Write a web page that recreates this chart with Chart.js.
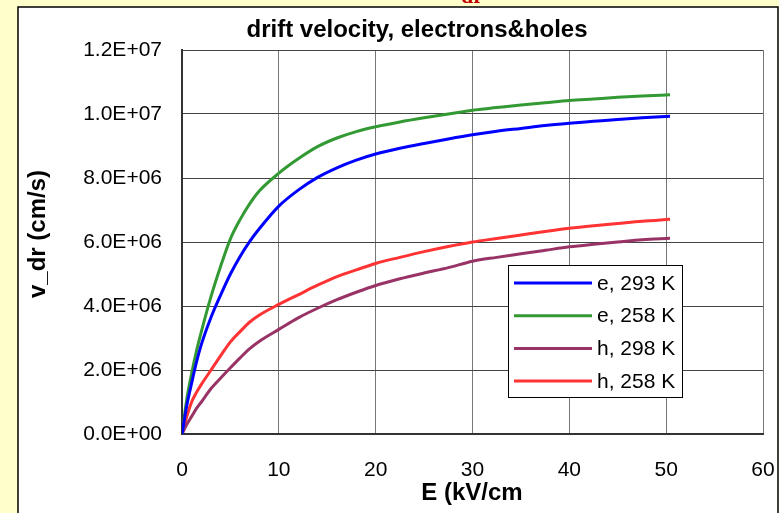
<!DOCTYPE html>
<html>
<head>
<meta charset="utf-8">
<script src="https://cdn.jsdelivr.net/npm/chart.js@4"></script>
<style>
  html, body { margin: 0; padding: 0; background: #FFFFCC; }
  #grafico { display: block; }
</style>
</head>
<body>
<canvas id="grafico" width="779" height="513"></canvas>
<script>
/* ── DATOS ── campo eléctrico (kV/cm) y velocidades de deriva (en 1E+06 cm/s) */
var campoE = [0, 0.5, 1, 1.5, 2, 3, 4, 5, 6, 7, 8, 10, 12, 14, 16, 18, 20, 22.5, 25, 27.5, 30, 32.5, 35, 37.5, 40, 42.5, 45, 47.5, 50.4];
var electrones293 = [0, 0.9, 1.6, 2.25, 2.8, 3.65, 4.35, 5.0, 5.55, 6.02, 6.42, 7.12, 7.62, 8.02, 8.32, 8.56, 8.75, 8.93, 9.08, 9.22, 9.35, 9.46, 9.55, 9.64, 9.71, 9.77, 9.83, 9.88, 9.93];
var electrones258 = [0, 1.1, 1.9, 2.6, 3.2, 4.3, 5.25, 6.1, 6.7, 7.2, 7.6, 8.15, 8.6, 8.98, 9.25, 9.45, 9.6, 9.75, 9.88, 10.0, 10.12, 10.2, 10.28, 10.35, 10.42, 10.47, 10.52, 10.56, 10.6];
var huecos298 = [0, 0.3, 0.55, 0.8, 1.0, 1.42, 1.75, 2.07, 2.38, 2.67, 2.9, 3.27, 3.63, 3.93, 4.2, 4.43, 4.64, 4.85, 5.03, 5.2, 5.4, 5.52, 5.63, 5.74, 5.85, 5.93, 6.0, 6.07, 6.12];
var huecos258 = [0, 0.55, 1.0, 1.3, 1.55, 2.0, 2.45, 2.88, 3.2, 3.5, 3.72, 4.05, 4.35, 4.65, 4.92, 5.13, 5.33, 5.52, 5.7, 5.86, 6.0, 6.11, 6.22, 6.33, 6.43, 6.51, 6.58, 6.65, 6.71];
var etiquetas = ['e, 293 K', 'e, 258 K', 'h, 298 K', 'h, 258 K'];
var colores = ['#0000FF', '#339933', '#993366', '#FF3333'];

Chart.defaults.font.family = "'Liberation Sans', Arial, sans-serif";
Chart.defaults.color = '#000';

/* convierte un arreglo de velocidades en puntos {x, y} */
function puntos(valores) {
    return campoE.map(function (e, i) { return { x: e, y: valores[i] * 1e6 }; });
}

/* formato tipo Excel: 1.2E+07 */
function formatoE(v) {
    var partes = Number(v).toExponential(1).toUpperCase().split('E');
    var exp = parseInt(partes[1], 10);
    var signo = exp < 0 ? '-' : '+';
    var abs = Math.abs(exp);
    return partes[0] + 'E' + signo + (abs < 10 ? '0' + abs : abs);
}

/* fondo amarillo, recuadro blanco y textos */
var marco = {
    id: 'marco',
    beforeDraw: function (chart) {
        var ctx = chart.ctx;
        ctx.save();
        ctx.fillStyle = '#FFFFCC';
        ctx.fillRect(0, 0, chart.width, chart.height);
        ctx.fillStyle = '#C00000';
        ctx.font = "bold 22px 'Liberation Serif', serif";
        ctx.textBaseline = 'alphabetic';
        ctx.fillText('dr', 461, 3);
        ctx.fillStyle = '#FFFFFF';
        ctx.fillRect(18, 7, 760, 520);
        ctx.strokeStyle = '#000';
        ctx.lineWidth = 1.5;
        ctx.strokeRect(18, 7, 760, 520);
        ctx.restore();
    },
    afterDraw: function (chart) {
        var ctx = chart.ctx;
        ctx.save();
        ctx.fillStyle = '#000';
        ctx.textAlign = 'center';
        ctx.textBaseline = 'middle';
        ctx.font = "bold 24px 'Liberation Sans', Arial, sans-serif";
        ctx.fillText('drift velocity, electrons&holes', 417, 30);
        ctx.fillText('E (kV/cm', 472, 493);
        ctx.translate(38, 234);
        ctx.rotate(-Math.PI / 2);
        ctx.fillText('v_dr (cm/s)', 0, 0);
        ctx.restore();

        /* leyenda dibujada dentro del área del gráfico */
        ctx.save();
        ctx.fillStyle = '#FFFFFF';
        ctx.fillRect(508, 265, 174, 132);
        ctx.strokeStyle = '#000';
        ctx.lineWidth = 1;
        ctx.strokeRect(508.5, 265.5, 174, 132);
        ctx.font = "21px 'Liberation Sans', Arial, sans-serif";
        ctx.textBaseline = 'middle';
        ctx.textAlign = 'left';
        chart.data.datasets.forEach(function (ds, i) {
            var y = 283 + i * 32.7;
            ctx.strokeStyle = ds.borderColor;
            ctx.lineWidth = 3;
            ctx.beginPath();
            ctx.moveTo(514, y);
            ctx.lineTo(592, y);
            ctx.stroke();
            ctx.fillStyle = '#000';
            ctx.fillText(ds.label, 597, y + 1);
        });
        ctx.restore();
    }
};

var series = [electrones293, electrones258, huecos298, huecos258];

new Chart(document.getElementById('grafico'), {
    type: 'line',
    data: {
        datasets: series.map(function (s, i) {
            return {
                label: etiquetas[i],
                data: puntos(s),
                borderColor: colores[i],
                backgroundColor: colores[i],
                borderWidth: 3,
                pointRadius: 0,
                cubicInterpolationMode: 'monotone',
                fill: false
            };
        })
    },
    options: {
        responsive: false,
        animation: false,
        layout: { padding: { top: 50, right: 16, bottom: 0, left: 0 } },
        plugins: {
            legend: { display: false },
            title: { display: false },
            tooltip: { enabled: false }
        },
        scales: {
            x: {
                type: 'linear',
                min: 0,
                max: 60,
                ticks: { stepSize: 10, padding: 24, font: { size: 21 }, maxRotation: 0 },
                grid: { color: '#777', lineWidth: 1, drawTicks: false },
                border: { color: '#333', width: 2 },
                afterFit: function (scale) {
                    scale.height = 79;
                    scale.paddingLeft = 0;
                    scale.paddingRight = 0;
                }
            },
            y: {
                type: 'linear',
                min: 0,
                max: 1.2e7,
                ticks: { stepSize: 2e6, padding: 20, font: { size: 21 }, callback: formatoE },
                grid: { color: '#444', lineWidth: 1, drawTicks: false },
                border: { color: '#333', width: 2 },
                afterFit: function (scale) {
                    scale.width = 182;
                    scale.paddingTop = 0;
                    scale.paddingBottom = 0;
                }
            }
        }
    },
    plugins: [marco]
});
</script>
</body>
</html>
